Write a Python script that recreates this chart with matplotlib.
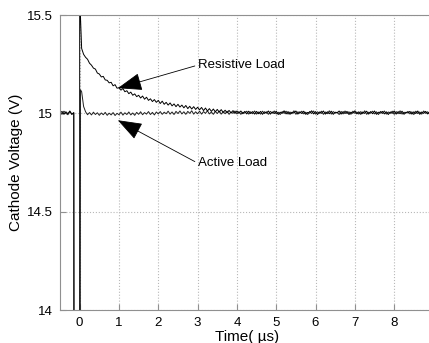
import numpy as np
import matplotlib
matplotlib.use("Agg")
import matplotlib.pyplot as plt

plt.rcParams['font.family'] = ['Liberation Sans', 'DejaVu Sans']

# pre-trigger samples (-0.5 .. -0.15 us)
pre_t = [-0.5, -0.45, -0.4, -0.35, -0.3, -0.25, -0.2, -0.15]
res_pre = [15.0, 15.01, 14.995, 15.008, 14.998, 15.012, 14.994, 15.004]
act_pre = [15.006, 14.995, 15.011, 15.0, 14.993, 15.009, 14.997, 15.002]

# switching edge: drop below the axis, then jump back
res_edge_t = [-0.15, 0.0, 0.0]
res_edge_v = [13.9, 13.9, 15.6]
act_edge_t = [-0.14, 0.015, 0.02]
act_edge_v = [13.9, 13.9, 15.12]

# post-trigger samples every 0.05 us from 0.05 to 8.95
resistive = [
    15.33, 15.30, 15.285, 15.275, 15.255, 15.245, 15.23, 15.225, 15.205, 15.2,
    15.185, 15.188, 15.17, 15.168, 15.155, 15.158, 15.14, 15.146, 15.128, 15.13,
    15.118, 15.126, 15.11, 15.115, 15.1, 15.108, 15.092, 15.099, 15.085, 15.092,
    15.078, 15.088, 15.072, 15.082, 15.066, 15.074, 15.06, 15.07, 15.056, 15.066,
    15.05, 15.062, 15.046, 15.056, 15.042, 15.053, 15.038, 15.048, 15.034, 15.046,
    15.032, 15.042, 15.028, 15.04, 15.024, 15.036, 15.022, 15.034, 15.02, 15.031,
    15.018, 15.03, 15.014, 15.027, 15.012, 15.024, 15.01, 15.022, 15.008, 15.02,
    15.006, 15.019, 15.005, 15.016, 15.003, 15.015, 15.002, 15.014, 15.0, 15.012,
    15.0, 15.012, 14.998, 15.01, 14.997, 15.011, 14.999, 15.009, 14.996, 15.01,
    14.998, 15.01, 14.995, 15.008, 15.001, 15.012, 14.996, 15.007, 14.999, 15.011,
    14.994, 15.006, 15.0, 15.013, 14.997, 15.009, 14.995, 15.006, 15.002, 15.012,
    14.996, 15.008, 14.999, 15.011, 14.995, 15.005, 15.001, 15.013, 14.997, 15.009,
    14.994, 15.007, 15.0, 15.012, 14.996, 15.008, 14.998, 15.011, 14.995, 15.006,
    15.002, 15.012, 14.996, 15.009, 14.999, 15.01, 14.994, 15.006, 15.001, 15.013,
    14.997, 15.008, 14.995, 15.007, 15.0, 15.011, 14.996, 15.009, 14.998, 15.012,
    14.995, 15.006, 15.001, 15.01, 14.997, 15.008, 14.994, 15.007, 15.0, 15.012,
    14.996, 15.009, 14.998, 15.011, 14.995, 15.006, 15.002, 15.01, 14.996, 15.008,
    14.999, 15.012, 14.995, 15.007, 15.0, 15.01, 14.997, 15.008, 14.996,
]
active = [
    15.11, 15.035, 15.008, 14.993, 15.004, 14.992, 15.006, 14.994, 15.003, 14.99,
    15.002, 14.993, 15.005, 14.99, 15.001, 14.992, 15.004, 14.989, 15.0, 14.993,
    15.006, 14.991, 15.003, 14.994, 15.007, 14.992, 15.002, 14.99, 15.005, 14.995,
    15.008, 14.993, 15.004, 14.996, 15.009, 14.994, 15.005, 14.992, 15.007, 14.997,
    15.009, 14.995, 15.006, 14.998, 15.011, 14.996, 15.007, 14.994, 15.01, 14.999,
    15.012, 14.997, 15.008, 14.995, 15.01, 15.0, 15.013, 14.996, 15.008, 14.998,
    15.011, 14.996, 15.009, 15.0, 15.013, 14.997, 15.007, 14.995, 15.01, 14.999,
    15.012, 14.996, 15.008, 14.998, 15.011, 14.995, 15.007, 15.0, 15.012, 14.997,
    15.009, 14.995, 15.006, 15.001, 15.011, 14.996, 15.008, 14.998, 15.012, 14.996,
    15.007, 14.996, 15.011, 14.999, 15.008, 14.995, 15.01, 15.001, 15.012, 14.997,
    15.006, 14.994, 15.009, 15.0, 15.011, 14.996, 15.007, 14.998, 15.013, 14.995,
    15.008, 15.001, 15.011, 14.997, 15.006, 14.994, 15.01, 14.999, 15.012, 14.996,
    15.008, 15.0, 15.011, 14.995, 15.007, 14.998, 15.013, 14.996, 15.009, 15.001,
    15.006, 14.994, 15.01, 14.997, 15.012, 14.999, 15.008, 14.995, 15.011, 15.0,
    15.007, 14.996, 15.009, 14.998, 15.013, 14.995, 15.006, 15.001, 15.011, 14.997,
    15.008, 14.994, 15.01, 14.999, 15.012, 14.996, 15.007, 15.0, 15.011, 14.995,
    15.009, 14.998, 15.013, 14.996, 15.006, 15.001, 15.01, 14.997, 15.008, 14.994,
    15.011, 14.999, 15.007, 14.996, 15.012, 15.0, 15.008, 14.995, 15.01,
]
post_t = np.arange(1, len(resistive) + 1) * 0.05

xticks = [0, 1, 2, 3, 4, 5, 6, 7, 8]
yticks = [14, 14.5, 15, 15.5]
ytick_labels = ["14", "14.5", "15", "15.5"]

fig = plt.figure(figsize=(4.29, 3.43), dpi=100)
ax = fig.add_axes([0.1399, 0.0962, 0.8706, 0.86])

res_t = pre_t + res_edge_t + list(post_t)
res_v = res_pre + res_edge_v + resistive
act_t = pre_t + act_edge_t + list(post_t)
act_v = act_pre + act_edge_v + active

ax.plot(act_t, act_v, color='#202020', lw=0.7)
ax.plot(res_t, res_v, color='black', lw=0.7)

ax.set_xlim(-0.5, 9)
ax.set_ylim(14, 15.5)
ax.set_xticks(xticks)
ax.set_yticks(yticks)
ax.set_yticklabels(ytick_labels)
ax.grid(True, linestyle=':', color='#b8b8b8', lw=0.8)
for sp in ax.spines.values():
    sp.set_color('#909090')
ax.spines['right'].set_visible(False)
ax.tick_params(direction='in', color='#909090', length=4, labelsize=9.5, pad=5)

ax.set_xlabel('Time( µs)', fontsize=11, labelpad=1)
ax.set_ylabel('Cathode Voltage (V)', fontsize=11, labelpad=3)

arrow = dict(arrowstyle='-|>,head_length=1.1,head_width=0.4', color='black',
             lw=0.6, shrinkA=0, shrinkB=0, mutation_scale=14, relpos=(0, 0.5))
ax.annotate('Resistive Load', xy=(0.97, 15.128), xytext=(3.0, 15.245),
            fontsize=9.5, va='center', ha='left', arrowprops=arrow)
ax.annotate('Active Load', xy=(0.97, 14.965), xytext=(3.0, 14.747),
            fontsize=9.5, va='center', ha='left', arrowprops=arrow)

fig.savefig('out.png', dpi=100)
